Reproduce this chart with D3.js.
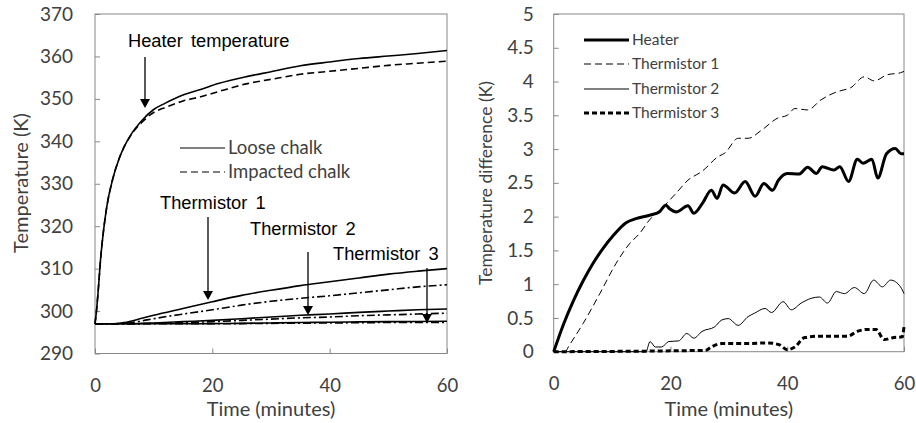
<!DOCTYPE html>
<html>
<head>
<meta charset="utf-8">
<script src="https://cdn.jsdelivr.net/npm/d3@7"></script>
<style>
  body { margin: 0; background: #fff; }
  svg { display: block; }
  .tick text { font-family: Lato, sans-serif; fill: #404040; }
</style>
</head>
<body>
<svg id="chart"></svg>
<script>
// ---- dados ----

// painel esquerdo: temperatura absoluta (K) x tempo (min)
const t_heater = [0, 0.25, 0.5, 1, 1.5, 2, 3, 4, 5, 6, 8, 10, 12, 15, 18, 21, 26, 30, 35, 40, 45, 50, 55, 60];
const heater_loose = [297, 300, 304, 313, 319.5, 324.5, 331, 335.5, 338.8, 341.3, 344.9, 347.5, 349, 350.9, 352.2, 353.6, 355.3, 356.4, 357.8, 358.7, 359.5, 360.1, 360.7, 361.4];
const heater_impacted = [297, 300, 304, 313, 319.5, 324.5, 331, 335.5, 338.8, 341.2, 344.5, 346.8, 348, 349.5, 350.5, 351.7, 353.6, 354.6, 355.8, 356.5, 357.2, 357.9, 358.4, 358.9];

const t_therm = [0, 3, 5, 8, 10, 15, 20, 25, 30, 35, 40, 45, 50, 55, 60];
const therm1_loose = [297, 297, 297.3, 298.3, 299, 300.6, 302.2, 303.7, 304.9, 306, 306.9, 307.8, 308.7, 309.4, 310];
const therm1_impacted = [297, 297, 297.1, 297.7, 298.2, 299.3, 300.3, 301.4, 302.3, 303, 303.6, 304.3, 305, 305.7, 306.2];
const therm2_loose = [297, 297, 297, 297.1, 297.2, 297.5, 297.8, 298.2, 298.6, 299, 299.3, 299.7, 300, 300.3, 300.5];
const therm2_impacted = [297, 297, 297, 297.05, 297.1, 297.3, 297.5, 297.8, 298.1, 298.4, 298.6, 298.9, 299.1, 299.3, 299.5];
const therm3_loose = [297, 297, 297, 297, 297, 297, 297.05, 297.1, 297.2, 297.3, 297.35, 297.45, 297.5, 297.55, 297.6];
const therm3_impacted = [297, 297, 297, 297, 297, 297, 297, 297.05, 297.1, 297.15, 297.2, 297.25, 297.3, 297.3, 297.35];

const left_y_ticks = [290, 300, 310, 320, 330, 340, 350, 360, 370];
const x_ticks = [0, 20, 40, 60];

// painel direito: diferença de temperatura (K)
const t_d_heater = [0, 1.65, 3.35, 5.05, 6.75, 8.46, 10.2, 12.4, 14.1, 16.4, 18.1, 19.2, 19.8, 21, 23, 24, 25.5, 27, 28, 29, 31, 32.8, 34.5, 36, 37.5, 38.5, 40, 42, 43.5, 45, 46, 48, 49, 50.5, 52, 53, 54.5, 55.5, 57, 58.5, 59.5, 60];
const d_heater = [0, 0.4, 0.75, 1.05, 1.31, 1.53, 1.72, 1.91, 1.97, 2.02, 2.07, 2.17, 2.12, 2.07, 2.16, 2.05, 2.2, 2.39, 2.27, 2.47, 2.35, 2.52, 2.3, 2.49, 2.39, 2.54, 2.64, 2.63, 2.73, 2.64, 2.74, 2.69, 2.74, 2.52, 2.85, 2.79, 2.85, 2.57, 2.93, 3.01, 2.93, 2.93];

const t_d_therm1 = [0, 2, 2.5, 5.05, 7.9, 10.7, 13, 14.7, 16.4, 18.7, 20.9, 23, 25.4, 28.2, 29.3, 31.6, 33.3, 35.6, 38.4, 40, 41.3, 43.5, 45.8, 48, 49, 50.9, 53.2, 54.9, 57.1, 59.4, 60];
const d_therm1 = [0, 0, 0.07, 0.42, 0.86, 1.31, 1.6, 1.75, 1.95, 2.14, 2.34, 2.54, 2.67, 2.89, 2.94, 3.16, 3.16, 3.28, 3.46, 3.5, 3.6, 3.58, 3.73, 3.83, 3.86, 3.91, 4.07, 4.01, 4.1, 4.13, 4.15];

const t_d_therm2 = [0, 15.8, 16.5, 17.4, 18.5, 19.7, 21.4, 22.8, 24, 25.4, 27.6, 28.8, 29.9, 31.6, 33.3, 34.4, 36.2, 37.3, 39.3, 40.7, 42.4, 44.1, 45.5, 46.9, 48.4, 49.8, 51.5, 53.2, 54.8, 56.3, 57.7, 59.4, 60];
const d_therm2 = [0, 0, 0.15, 0.07, 0.07, 0.15, 0.16, 0.27, 0.2, 0.3, 0.37, 0.47, 0.49, 0.39, 0.52, 0.57, 0.64, 0.58, 0.74, 0.62, 0.72, 0.79, 0.81, 0.72, 0.89, 0.86, 0.95, 0.86, 1.06, 0.96, 1.06, 0.96, 0.86];

const t_d_therm3 = [0, 26, 27, 28.8, 33, 36.7, 38.7, 40, 41.3, 43, 45.8, 50.3, 52, 53.7, 55.2, 56.6, 58.3, 59.7, 60];
const d_therm3 = [0, 0.02, 0.07, 0.12, 0.12, 0.13, 0.1, 0.03, 0.07, 0.21, 0.23, 0.23, 0.3, 0.33, 0.33, 0.18, 0.21, 0.22, 0.37];

const right_y_ticks = [0, 0.5, 1, 1.5, 2, 2.5, 3, 3.5, 4, 4.5, 5];

// ---- montagem ----
const w = 916, h = 423;
const $svg = d3.select('#chart').attr('width', w).attr('height', h);

const zip = (xs, ys) => xs.map((x, i) => [x, ys[i]]);

function painel(cfg) {
  const x = d3.scaleLinear().domain([0, 60]).range([cfg.x0, cfg.x1]);
  const y = d3.scaleLinear().domain(cfg.ydom).range([cfg.y1, cfg.y0]);

  const g = $svg.append('g');

  // eixo x (ticks para dentro)
  g.append('g')
    .attr('transform', `translate(0,${cfg.y1})`)
    .call(d3.axisBottom(x).tickValues(x_ticks).tickSize(-5).tickPadding(25).tickSizeOuter(0))
    .call(a => a.select('.domain').remove())
    .call(a => a.selectAll('line').attr('stroke', '#888'))
    .call(a => a.selectAll('text').attr('font-size', 18.5));

  g.append('g')
    .attr('transform', `translate(${cfg.x0},0)`)
    .call(d3.axisLeft(y).tickValues(cfg.yticks).tickFormat(d => d).tickSize(-5).tickPadding(cfg.ypad).tickSizeOuter(0))
    .call(a => a.select('.domain').remove())
    .call(a => a.selectAll('line').attr('stroke', '#888'))
    .call(a => a.selectAll('text').attr('font-size', 19));

  // caixa
  g.append('rect')
    .attr('x', cfg.x0).attr('y', cfg.y0)
    .attr('width', cfg.x1 - cfg.x0).attr('height', cfg.y1 - cfg.y0)
    .attr('fill', 'none').attr('stroke', '#888').attr('stroke-width', 1);

  g.append('text')
    .attr('x', (cfg.x0 + cfg.x1) / 2).attr('y', 416)
    .attr('text-anchor', 'middle')
    .attr('font-family', 'Lato, sans-serif').attr('font-size', 20).attr('fill', '#404040')
    .text('Time (minutes)');

  g.append('text')
    .attr('transform', `translate(${cfg.ytx},${cfg.ytc}) rotate(-90)`)
    .attr('text-anchor', 'middle')
    .attr('font-family', 'Lato, sans-serif').attr('font-size', cfg.ytsz).attr('fill', '#404040')
    .text(cfg.ytitle);

  const line = d3.line().x(d => x(d[0])).y(d => y(d[1])).curve(d3.curveMonotoneX);
  for (const s of cfg.series) {
    g.append('path')
      .datum(s.data)
      .attr('d', line)
      .attr('fill', 'none')
      .attr('stroke', '#000')
      .attr('stroke-width', s.sw)
      .attr('stroke-dasharray', s.dash || null);
  }
  return { x, y, g };
}

const esq = painel({
  x0: 95, x1: 447, y0: 14, y1: 353.5,
  ydom: [290, 370], yticks: left_y_ticks, ypad: 22,
  ytitle: 'Temperature (K)', ytx: 28, ytc: 183, ytsz: 20,
  series: [
    { data: zip(t_heater, heater_loose), sw: 1.6 },
    { data: zip(t_heater, heater_impacted), sw: 1.6, dash: '7,4' },
    { data: zip(t_therm, therm1_loose), sw: 1.6 },
    { data: zip(t_therm, therm1_impacted), sw: 1.6, dash: '8,3,2,3' },
    { data: zip(t_therm, therm2_loose), sw: 1.6 },
    { data: zip(t_therm, therm2_impacted), sw: 1.6, dash: '8,3,2,3' },
    { data: zip(t_therm, therm3_loose), sw: 1.6 },
    { data: zip(t_therm, therm3_impacted), sw: 1.6, dash: '8,3,2,3' }
  ]
});

const dir = painel({
  x0: 553.7, x1: 904, y0: 14, y1: 351.7,
  ydom: [0, 5], yticks: right_y_ticks, ypad: 20,
  ytitle: 'Temperature difference (K)', ytx: 492, ytc: 183, ytsz: 17.5,
  series: [
    { data: zip(t_d_heater, d_heater), sw: 3 },
    { data: zip(t_d_therm1, d_therm1), sw: 1, dash: '7,4' },
    { data: zip(t_d_therm2, d_therm2), sw: 1 },
    { data: zip(t_d_therm3, d_therm3), sw: 3, dash: '5,3' }
  ]
});

// ---- legendas ----
function legenda(items, x0, x1, ys, sz) {
  items.forEach((it, i) => {
    $svg.append('line')
      .attr('x1', x0).attr('x2', x1).attr('y1', ys[i]).attr('y2', ys[i])
      .attr('stroke', '#000').attr('stroke-width', it.sw)
      .attr('stroke-dasharray', it.dash || null);
    $svg.append('text')
      .attr('x', x1 + 3).attr('y', ys[i]).attr('dy', '0.35em')
      .attr('font-family', 'Lato, sans-serif').attr('font-size', sz).attr('fill', '#404040')
      .text(it.label);
  });
}

legenda([
  { label: 'Loose chalk', sw: 1.2 },
  { label: 'Impacted chalk', sw: 1.2, dash: '7,4' }
], 180, 225, [148, 172], 18.5);

legenda([
  { label: 'Heater', sw: 3 },
  { label: 'Thermistor 1', sw: 1, dash: '7,4' },
  { label: 'Thermistor 2', sw: 1 },
  { label: 'Thermistor 3', sw: 3, dash: '5,3' }
], 584, 629, [40, 64, 89, 113], 15.5);

// ---- anotações com setas ----
const notas = [
  { label: 'Heater temperature', tx: 128, ty: 47, ax: 145, a0: 57, a1: 108 },
  { label: 'Thermistor 1', tx: 160, ty: 209, ax: 208, a0: 217, a1: 300 },
  { label: 'Thermistor 2', tx: 250, ty: 235, ax: 308, a0: 252, a1: 315 },
  { label: 'Thermistor 3', tx: 333, ty: 260, ax: 427, a0: 268, a1: 323 }
];

for (const n of notas) {
  $svg.append('text')
    .attr('x', n.tx).attr('y', n.ty)
    .attr('font-family', '"Liberation Sans", Arial, sans-serif').attr('font-size', 18.3)
    .attr('word-spacing', 3)
    .attr('fill', '#000')
    .text(n.label);
  $svg.append('line')
    .attr('x1', n.ax).attr('x2', n.ax).attr('y1', n.a0).attr('y2', n.a1 - 8)
    .attr('stroke', '#000').attr('stroke-width', 1.3);
  $svg.append('path')
    .attr('d', `M${n.ax - 5},${n.a1 - 9} L${n.ax + 5},${n.a1 - 9} L${n.ax},${n.a1} Z`)
    .attr('fill', '#000');
}
</script>
</body>
</html>
